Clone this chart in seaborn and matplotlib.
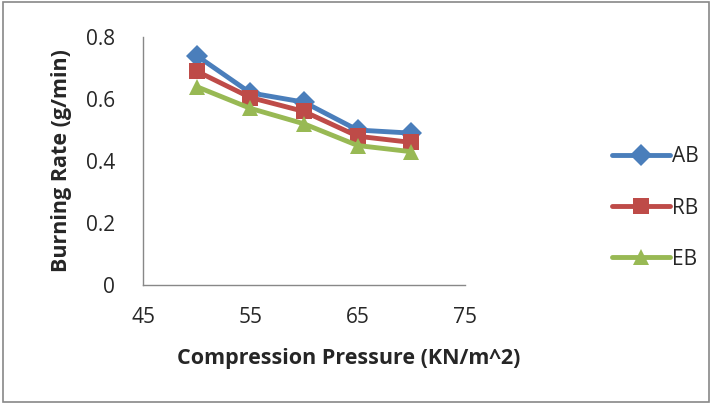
import matplotlib
matplotlib.use("Agg")
import matplotlib.pyplot as plt
import seaborn as sns
import pandas as pd
from matplotlib.patches import Rectangle

pressure = [50, 55, 60, 65, 70]
ab = [0.74, 0.62, 0.59, 0.50, 0.49]
rb = [0.69, 0.605, 0.56, 0.48, 0.46]
eb = [0.64, 0.57, 0.52, 0.45, 0.43]
series_names = ["AB", "RB", "EB"]
colors = ["#4A7EBB", "#BE4B48", "#98B954"]
markers = ["D", "s", "^"]

df = pd.DataFrame({"Pressure": pressure * 3,
                   "Rate": ab + rb + eb,
                   "Series": [n for n in series_names for _ in pressure]})

sns.set_style("white")
plt.rcParams['font.family'] = ['Open Sans', 'DejaVu Sans']

fig = plt.figure(figsize=(7.12, 4.04), dpi=100)
ax = fig.add_axes([0.201, 0.295, 0.452, 0.613])

sns.lineplot(data=df, x="Pressure", y="Rate", hue="Series", style="Series",
             palette=colors, markers=markers, dashes=False, ax=ax,
             linewidth=3.5, markersize=11, markeredgewidth=0, legend=True)

ax.set_xlim(45, 75)
ax.set_ylim(0, 0.8)
ax.set_xticks([45, 55, 65, 75])
ax.set_yticks([0, 0.2, 0.4, 0.6, 0.8])
ax.set_yticklabels(["0", "0.2", "0.4", "0.6", "0.8"])
ax.tick_params(axis='both', labelsize=15, length=0)
ax.tick_params(axis='y', pad=20)
ax.tick_params(axis='x', pad=16)
for s in ["top", "right"]:
    ax.spines[s].set_visible(False)
for s in ["left", "bottom"]:
    ax.spines[s].set_color("#888888")
    ax.spines[s].set_linewidth(1)
ax.set_xlabel("Compression Pressure (KN/m^2)", fontsize=15.5, fontweight="bold")
ax.xaxis.set_label_coords(0.64, -0.255)
ax.set_ylabel("Burning Rate (g/min)", fontsize=15.5, fontweight="bold", labelpad=10)

leg = ax.legend(loc="center left", bbox_to_anchor=(1.43, 0.31), frameon=False,
                fontsize=15, labelspacing=1.45, handlelength=2.8, handletextpad=0.1,
                borderaxespad=0)
for line in leg.get_lines():
    line.set_linewidth(3.5)
    line.set_solid_capstyle("round")

fig.patches.append(Rectangle((0.004, 0.004), 0.992, 0.99, transform=fig.transFigure,
                             fill=False, edgecolor="#888888", linewidth=1.2))

fig.savefig("out.png", dpi=100)
